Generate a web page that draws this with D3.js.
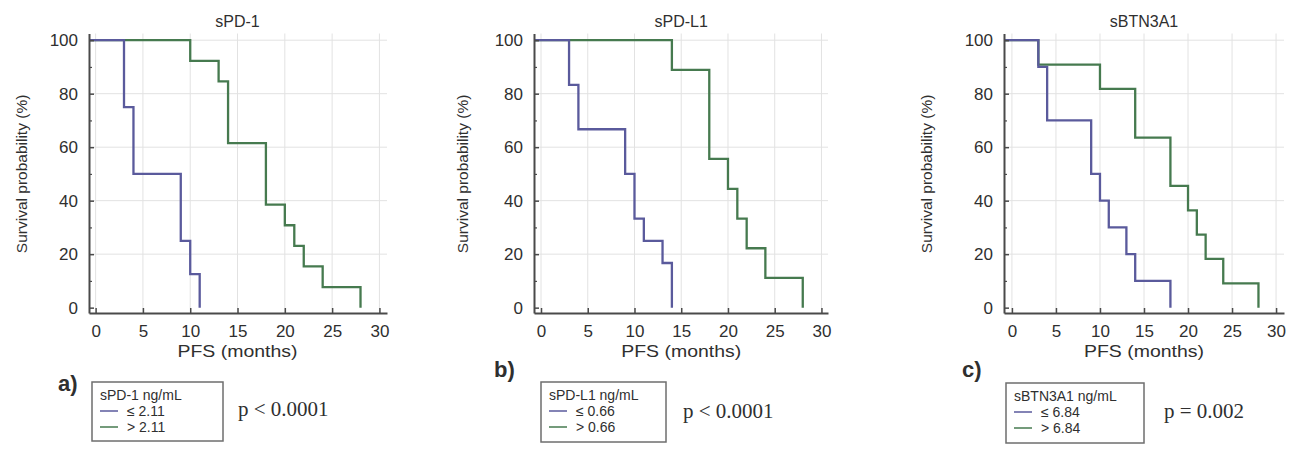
<!DOCTYPE html>
<html>
<head>
<meta charset="utf-8">
<script src="https://cdn.jsdelivr.net/npm/d3@7"></script>
<style>
  html, body { margin: 0; padding: 0; background: #ffffff; }
  svg { display: block; }
</style>
</head>
<body>
<svg id="chart" width="1290" height="458"></svg>
<script>
// ---------- Data ----------
const panelTitles = ["sPD-1", "sPD-L1", "sBTN3A1"];
const panelLetters = ["a)", "b)", "c)"];
const legendTitles = ["sPD-1 ng/mL", "sPD-L1 ng/mL", "sBTN3A1 ng/mL"];
const lowLabels = ["\u2264 2.11", "\u2264 0.66", "\u2264 6.84"];
const highLabels = ["> 2.11", "> 0.66", "> 6.84"];
const pValues = ["p < 0.0001", "p < 0.0001", "p = 0.002"];

const xTicks = [0, 5, 10, 15, 20, 25, 30];
const yTicks = [0, 20, 40, 60, 80, 100];
const yMinorTicks = [10, 30, 50, 70, 90];

// sPD-1
const sPD1LowTimes = [3, 4, 9, 10, 11];
const sPD1LowSurv = [75, 50, 25, 12.5, 0];
const sPD1HighTimes = [10, 13, 14, 18, 20, 21, 22, 24, 28];
const sPD1HighSurv = [92.3, 84.6, 61.5, 38.5, 30.8, 23.1, 15.4, 7.7, 0];
// sPD-L1
const sPDL1LowTimes = [3, 4, 9, 10, 11, 13, 14];
const sPDL1LowSurv = [83.3, 66.7, 50, 33.3, 25, 16.7, 0];
const sPDL1HighTimes = [14, 18, 20, 21, 22, 24, 28];
const sPDL1HighSurv = [88.9, 55.6, 44.4, 33.3, 22.2, 11.1, 0];
// sBTN3A1
const sBTNLowTimes = [3, 4, 9, 10, 11, 13, 14, 18];
const sBTNLowSurv = [90, 70, 50, 40, 30, 20, 10, 0];
const sBTNHighTimes = [3, 10, 14, 18, 20, 21, 22, 24, 28];
const sBTNHighSurv = [90.9, 81.8, 63.6, 45.5, 36.4, 27.3, 18.2, 9.1, 0];

const lowSeries = [[sPD1LowTimes, sPD1LowSurv], [sPDL1LowTimes, sPDL1LowSurv], [sBTNLowTimes, sBTNLowSurv]];
const highSeries = [[sPD1HighTimes, sPD1HighSurv], [sPDL1HighTimes, sPDL1HighSurv], [sBTNHighTimes, sBTNHighSurv]];

// ---------- Layout ----------
const SANS = "'Liberation Sans', Arial, sans-serif";
const SERIF = "'Liberation Serif', 'Times New Roman', serif";
const COLORS = { low: "#5a5a9c", high: "#467a4f", axis: "#4a4a4a", grid: "#e2e2e2", text: "#2f2f2f" };
const layouts = [
  { domain: [-0.7, 30.8], range: [89, 387], ylab: 22, legend: [92, 382, 131, 59], p: [238, 416], letter: [58, 391] },
  { domain: [-0.75, 30.7], range: [534, 828], ylab: 463, legend: [541, 382, 125, 60], p: [683, 418], letter: [494, 377] },
  { domain: [-0.9, 30.9], range: [1004, 1284], ylab: 927, legend: [1006, 383, 138, 60], p: [1164, 418], letter: [962, 377] }
];
const yDomain = [-2, 102.5];
const yRange = [313, 33.5];

const svg = d3.select("#chart");

layouts.forEach((L, i) => {
  const x = d3.scaleLinear().domain(L.domain).range(L.range);
  const y = d3.scaleLinear().domain(yDomain).range(yRange);
  const g = svg.append("g").style("font-family", SANS);

  // grid
  g.append("g").selectAll("line").data(xTicks).join("line")
    .attr("x1", d => x(d)).attr("x2", d => x(d))
    .attr("y1", y(yDomain[0])).attr("y2", y(yDomain[1]))
    .attr("stroke", COLORS.grid).attr("stroke-width", 1);
  g.append("g").selectAll("line").data(yTicks.filter(d => d > 0)).join("line")
    .attr("x1", x(L.domain[0])).attr("x2", x(L.domain[1]))
    .attr("y1", d => y(d)).attr("y2", d => y(d))
    .attr("stroke", COLORS.grid).attr("stroke-width", 1);

  // curves
  const line = d3.line().x(d => x(d[0])).y(d => y(d[1])).curve(d3.curveStepAfter);
  const mk = (s) => [[L.domain[0], 100]].concat(s[0].map((t, k) => [t, s[1][k]]));
  g.append("path").datum(mk(highSeries[i])).attr("d", line)
    .attr("fill", "none").attr("stroke", COLORS.high).attr("stroke-width", 2.3);
  g.append("path").datum(mk(lowSeries[i])).attr("d", line)
    .attr("fill", "none").attr("stroke", COLORS.low).attr("stroke-width", 2.3);

  // x axis
  const xAxis = d3.axisBottom(x).tickValues(xTicks).tickSize(-5).tickPadding(12).tickSizeOuter(0);
  const gx = g.append("g").attr("transform", `translate(0,${y(yDomain[0])})`).call(xAxis);
  gx.attr("font-family", null);
  gx.select(".domain").attr("stroke", COLORS.axis).attr("stroke-width", 2);
  gx.selectAll(".tick line").attr("stroke", COLORS.axis).attr("stroke-width", 1.5);
  gx.selectAll(".tick text").attr("font-size", 17).attr("fill", COLORS.text);

  // y axis
  const yAxis = d3.axisLeft(y).tickValues(yTicks).tickSize(-5).tickPadding(11).tickSizeOuter(0);
  const gy = g.append("g").attr("transform", `translate(${x(L.domain[0])},0)`).call(yAxis);
  gy.attr("font-family", null);
  gy.select(".domain").attr("stroke", COLORS.axis).attr("stroke-width", 2);
  gy.selectAll(".tick line").attr("stroke", COLORS.axis).attr("stroke-width", 1.5);
  gy.selectAll(".tick text").attr("font-size", 17).attr("fill", COLORS.text);
  const yAxisMinor = d3.axisLeft(y).tickValues(yMinorTicks).tickSize(-3).tickFormat("").tickSizeOuter(0);
  const gym = g.append("g").attr("transform", `translate(${x(L.domain[0])},0)`).call(yAxisMinor);
  gym.select(".domain").remove();
  gym.selectAll(".tick line").attr("stroke", COLORS.axis).attr("stroke-width", 1.2);

  // title
  const cx = (x(0) + x(30)) / 2;
  g.append("text").attr("x", cx).attr("y", 27).attr("text-anchor", "middle")
    .attr("font-size", 16).attr("fill", COLORS.text).text(panelTitles[i]);

  // axis labels
  g.append("text").attr("x", cx).attr("y", 357).attr("text-anchor", "middle")
    .attr("font-size", 17).attr("fill", COLORS.text)
    .attr("textLength", 120).attr("lengthAdjust", "spacingAndGlyphs").text("PFS (months)");
  g.append("text").attr("transform", `translate(${L.ylab + 5},${(y(0) + y(100)) / 2}) rotate(-90)`)
    .attr("text-anchor", "middle").attr("font-size", 15.5).attr("fill", COLORS.text)
    .text("Survival probability (%)");

  // panel letter
  g.append("text").attr("x", L.letter[0]).attr("y", L.letter[1])
    .attr("font-size", 22).attr("font-weight", "bold").attr("fill", COLORS.text)
    .text(panelLetters[i]);

  // legend
  const [lx, ly, lw, lh] = L.legend;
  const lg = g.append("g").attr("transform", `translate(${lx},${ly})`);
  lg.append("rect").attr("width", lw).attr("height", lh)
    .attr("fill", "#fff").attr("stroke", "#6e6e6e").attr("stroke-width", 1.5);
  lg.append("text").attr("x", 8).attr("y", 18).attr("font-size", 14).attr("fill", COLORS.text)
    .text(legendTitles[i]);
  const rows = [{ lab: lowLabels[i], col: COLORS.low, yy: 34 }, { lab: highLabels[i], col: COLORS.high, yy: 50 }];
  rows.forEach(r => {
    lg.append("line").attr("x1", 8).attr("x2", 26).attr("y1", r.yy - 5).attr("y2", r.yy - 5)
      .attr("stroke", r.col).attr("stroke-width", 1.5);
    lg.append("text").attr("x", 35).attr("y", r.yy).attr("font-size", 14).attr("fill", COLORS.text)
      .text(r.lab);
  });

  // p value
  g.append("text").attr("x", L.p[0]).attr("y", L.p[1])
    .style("font-family", SERIF)
    .attr("font-size", 21).attr("fill", COLORS.text).text(pValues[i]);
});
</script>
</body>
</html>
